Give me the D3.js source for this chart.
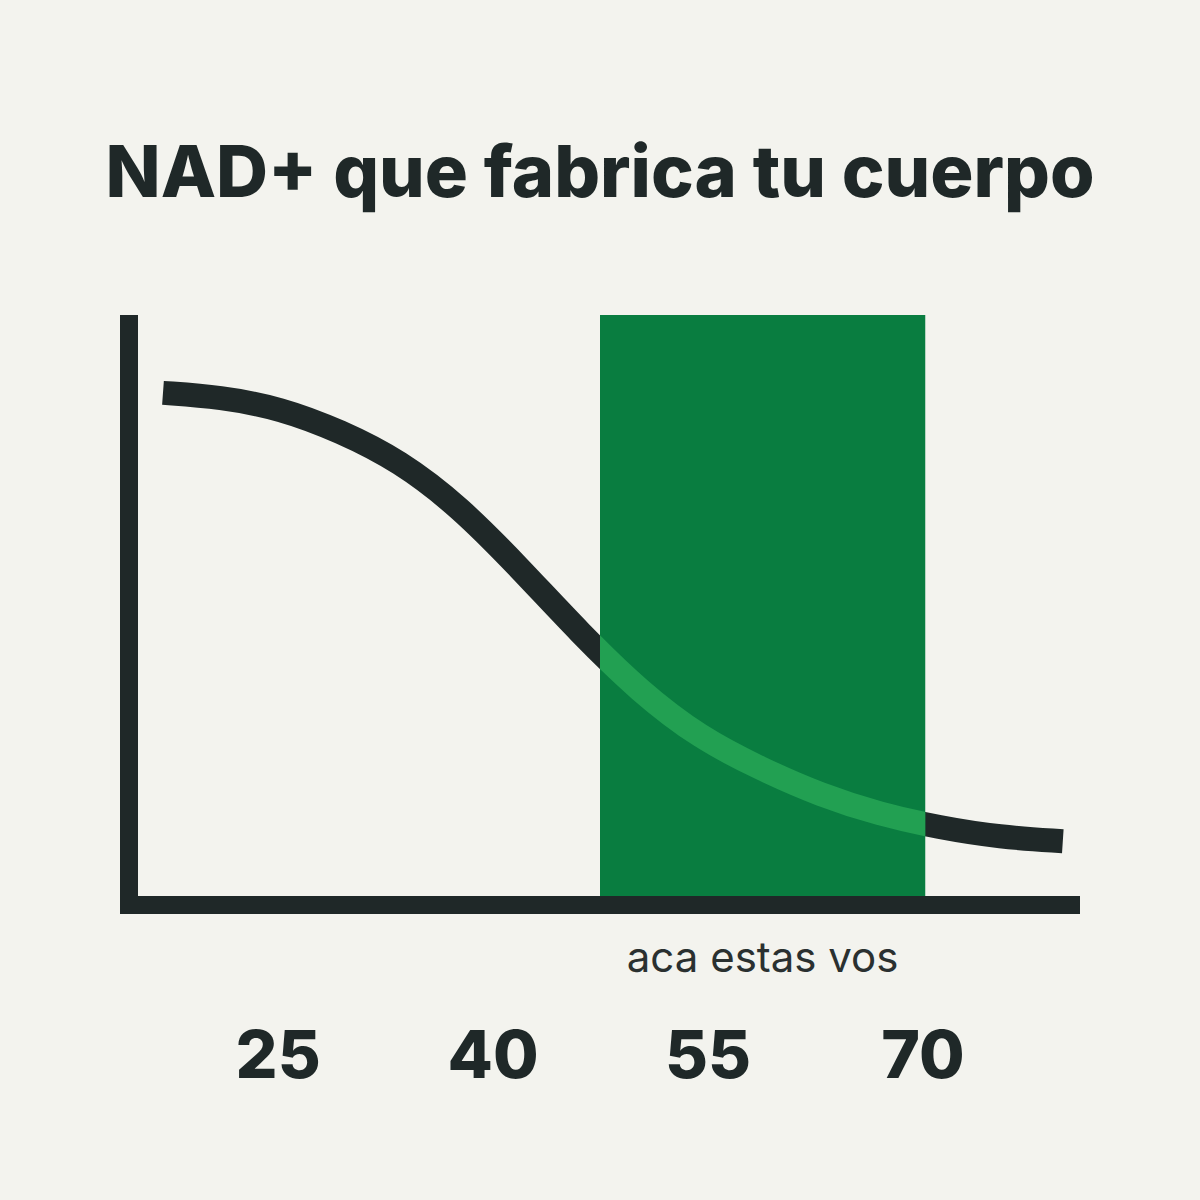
<!DOCTYPE html>
<html>
<head>
<meta charset="utf-8">
<script src="https://cdn.jsdelivr.net/npm/d3@7"></script>
<style>
  html, body { margin: 0; padding: 0; background: #f3f3ee; }
  svg { display: block; }
</style>
</head>
<body>
<svg id="chart" width="1200" height="1200"></svg>
<script>
// ---- data ----
const title = "NAD+ que fabrica tu cuerpo";
const bandLabel = "aca estas vos";
const ages = [17, 21, 25.2, 29.4, 33.5, 37.7, 41.9, 46.1, 50.3, 54.5, 58.7, 62.9, 67, 71.2, 75.4, 79.8];
const nadLevel = [86.8, 86.1, 84.2, 80.3, 75.3, 67.5, 57.1, 46.1, 36.1, 28.3, 23.1, 18.6, 15.4, 13.1, 11.5, 10.8];
const tickAges = [25, 40, 55, 70];
const bandAges = [47.5, 70.2];
const ageDomain = [14, 81];
const levelDomain = [0, 100];

// ---- colours ----
const bg = "#f3f3ee";
const ink = "#1f2828";
const green = "#097d40";
const lightGreen = "#22a052";

const svg = d3.select("#chart");
svg.append("rect").attr("width", 1200).attr("height", 1200).attr("fill", bg);

const x = d3.scaleLinear().domain(ageDomain).range([120, 1080]);
const y = d3.scaleLinear().domain(levelDomain).range([905, 315]);

const pts = ages.map((a, i) => [a, nadLevel[i]]);
const line = d3.line().x(d => x(d[0])).y(d => y(d[1])).curve(d3.curveBasis);

// title
svg.append("text")
  .attr("x", 600).attr("y", 197)
  .attr("text-anchor", "middle")
  .attr("font-family", "Inter, 'Liberation Sans', sans-serif")
  .attr("font-weight", 800)
  .attr("font-size", 72)
  .attr("fill", ink)
  .text(title);

// dark curve
svg.append("path")
  .attr("d", line(pts))
  .attr("fill", "none")
  .attr("stroke", ink)
  .attr("stroke-width", 24)
  .attr("stroke-linecap", "butt");

// green band
const bx0 = x(bandAges[0]), bx1 = x(bandAges[1]);
svg.append("rect")
  .attr("x", bx0).attr("y", y(levelDomain[1]))
  .attr("width", bx1 - bx0)
  .attr("height", y(levelDomain[0]) - y(levelDomain[1]))
  .attr("fill", green);

// light-green part of the curve inside the band
svg.append("clipPath").attr("id", "bandClip")
  .append("rect")
  .attr("x", bx0).attr("y", y(levelDomain[1]))
  .attr("width", bx1 - bx0)
  .attr("height", y(levelDomain[0]) - y(levelDomain[1]));
svg.append("path")
  .attr("d", line(pts))
  .attr("clip-path", "url(#bandClip)")
  .attr("fill", "none")
  .attr("stroke", lightGreen)
  .attr("stroke-width", 24)
  .attr("stroke-linecap", "butt");

// axes lines
svg.append("line")
  .attr("x1", x(ageDomain[0]) + 9).attr("x2", x(ageDomain[0]) + 9)
  .attr("y1", y(levelDomain[1])).attr("y2", y(levelDomain[0]) + 9)
  .attr("stroke", ink).attr("stroke-width", 18);
svg.append("line")
  .attr("x1", x(ageDomain[0])).attr("x2", x(ageDomain[1]))
  .attr("y1", y(levelDomain[0])).attr("y2", y(levelDomain[0]))
  .attr("stroke", ink).attr("stroke-width", 18);

// band label
svg.append("text")
  .attr("x", (bx0 + bx1) / 2).attr("y", 972)
  .attr("text-anchor", "middle")
  .attr("font-family", "Inter, 'Liberation Sans', sans-serif")
  .attr("font-weight", 400)
  .attr("font-size", 42)
  .attr("fill", "#2a3030")
  .text(bandLabel);

// tick labels
const axis = d3.axisBottom(x).tickValues(tickAges).tickSize(0).tickFormat(d3.format("d"));
const g = svg.append("g").attr("transform", "translate(0,1078)").call(axis);
g.select(".domain").remove();
g.selectAll("text")
  .attr("y", 0).attr("dy", null)
  .attr("font-family", "Inter, 'Liberation Sans', sans-serif")
  .attr("font-weight", 800)
  .attr("font-size", 66)
  .attr("fill", ink);
</script>
</body>
</html>
